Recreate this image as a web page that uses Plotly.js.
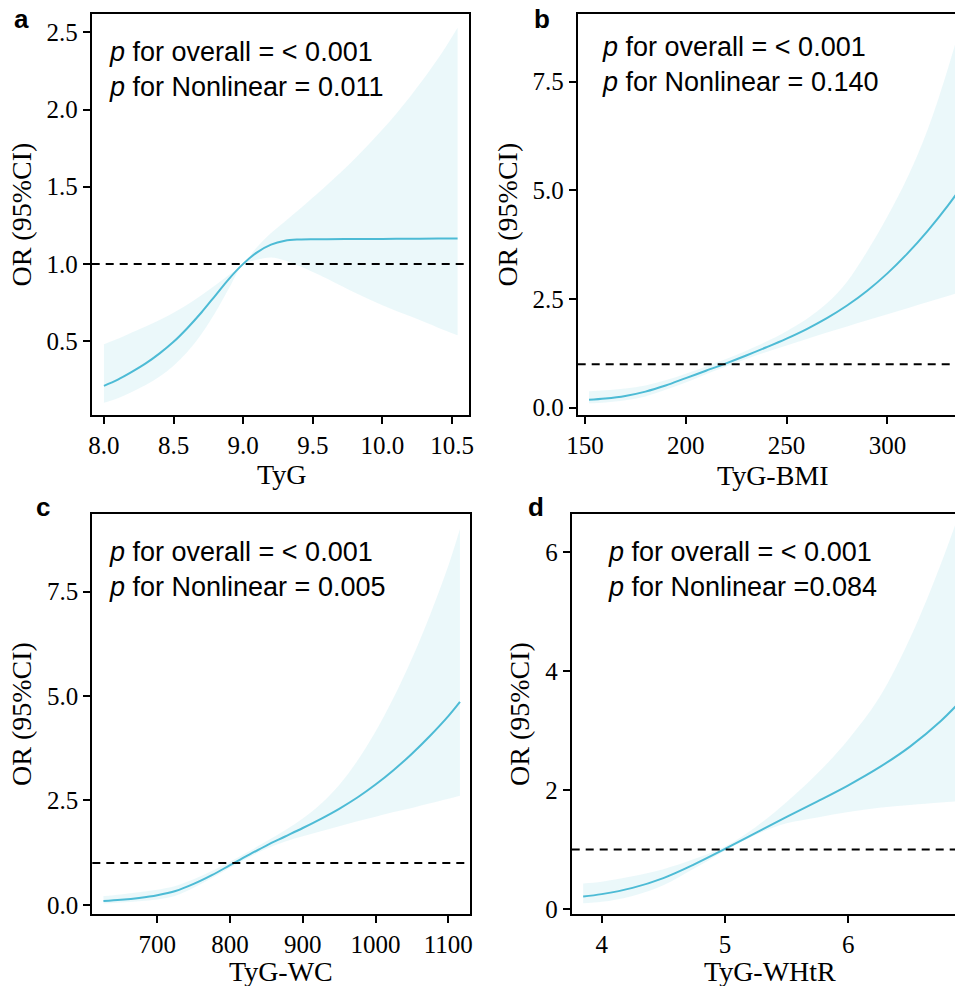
<!DOCTYPE html>
<html>
<head>
<meta charset="utf-8">
<script src="https://cdn.plot.ly/plotly-3.0.1.min.js"></script>
<style>
  html, body { margin: 0; padding: 0; background: #ffffff; overflow: hidden; }
  #chart { width: 1000px; height: 986px; }
</style>
</head>
<body>
<div id="chart"></div>
<script>
// ---------------- data ----------------
// Panel a: TyG
const tygX     = [8.0, 8.1, 8.2, 8.3, 8.4, 8.5, 8.6, 8.7, 8.8, 8.9, 9.0, 9.1, 9.2, 9.3, 9.4, 9.5, 9.6, 9.8, 10.0, 10.2, 10.4, 10.54];
const tygOR    = [0.21, 0.25, 0.30, 0.355, 0.42, 0.495, 0.585, 0.685, 0.795, 0.905, 1.0, 1.075, 1.125, 1.15, 1.158, 1.16, 1.16, 1.161, 1.162, 1.163, 1.164, 1.164];
const tygUpper = [0.48, 0.515, 0.555, 0.595, 0.637, 0.683, 0.737, 0.797, 0.862, 0.93, 1.0, 1.11, 1.20, 1.275, 1.35, 1.43, 1.51, 1.68, 1.87, 2.085, 2.33, 2.53];
const tygLower = [0.10, 0.13, 0.17, 0.215, 0.27, 0.34, 0.43, 0.545, 0.685, 0.845, 0.995, 1.027, 1.042, 1.022, 0.988, 0.948, 0.906, 0.815, 0.732, 0.66, 0.587, 0.537];

// Panel b: TyG-BMI
const bmiX     = [152, 160, 170, 180, 190, 200, 210, 220, 230, 240, 250, 260, 270, 280, 290, 300, 310, 320, 330, 340];
const bmiOR    = [0.18, 0.21, 0.27, 0.37, 0.51, 0.68, 0.85, 1.02, 1.2, 1.39, 1.59, 1.81, 2.06, 2.35, 2.69, 3.09, 3.55, 4.07, 4.65, 5.29];
const bmiUpper = [0.38, 0.40, 0.44, 0.51, 0.63, 0.78, 0.95, 1.12, 1.31, 1.52, 1.76, 2.04, 2.4, 2.9, 3.6, 4.4, 5.3, 6.4, 7.8, 9.4];
const bmiLower = [0.10, 0.12, 0.17, 0.26, 0.41, 0.58, 0.77, 0.95, 1.12, 1.28, 1.43, 1.58, 1.73, 1.87, 2.01, 2.15, 2.29, 2.43, 2.57, 2.71];

// Panel c: TyG-WC
const wcX     = [626, 650, 675, 700, 725, 750, 775, 800, 825, 850, 875, 900, 925, 950, 975, 1000, 1025, 1050, 1075, 1100, 1116];
const wcOR    = [0.089, 0.12, 0.165, 0.23, 0.33, 0.50, 0.71, 0.95, 1.19, 1.42, 1.63, 1.84, 2.06, 2.30, 2.57, 2.88, 3.23, 3.62, 4.05, 4.52, 4.86];
const wcUpper = [0.21, 0.25, 0.30, 0.36, 0.45, 0.61, 0.81, 1.03, 1.27, 1.52, 1.78, 2.07, 2.42, 2.87, 3.45, 4.15, 4.97, 5.9, 6.95, 8.12, 9.0];
const wcLower = [0.033, 0.055, 0.085, 0.13, 0.22, 0.41, 0.64, 0.89, 1.13, 1.34, 1.51, 1.64, 1.76, 1.88, 2.0, 2.11, 2.22, 2.32, 2.43, 2.54, 2.61];

// Panel d: TyG-WHtR
const whtrX     = [3.85, 4.0, 4.25, 4.5, 4.75, 5.0, 5.25, 5.5, 5.75, 6.0, 6.25, 6.5, 6.75, 6.95];
const whtrOR    = [0.21, 0.25, 0.355, 0.52, 0.75, 1.01, 1.28, 1.55, 1.81, 2.08, 2.38, 2.73, 3.16, 3.58];
const whtrUpper = [0.43, 0.46, 0.55, 0.67, 0.84, 1.05, 1.38, 1.8, 2.28, 2.85, 3.55, 4.55, 5.8, 6.95];
const whtrLower = [0.095, 0.12, 0.22, 0.40, 0.68, 0.98, 1.25, 1.44, 1.54, 1.63, 1.70, 1.75, 1.79, 1.82];

const refOR = 1;
const panelLetters = ["a", "b", "c", "d"];
const xTitles = ["TyG", "TyG-BMI", "TyG-WC", "TyG-WHtR"];
const yTitle = "OR (95%CI)";
const pOverall = ["&lt; 0.001", "&lt; 0.001", "&lt; 0.001", "&lt; 0.001"];
const pNonlinear = [" 0.011", " 0.140", " 0.005", "0.084"];

// ---------------- layout helpers ----------------
const W = 1000, H = 986;
const px = v => v / W;
const py = v => 1 - v / H;

const LINE = "#4DBBD5";
const BAND = "rgba(77,187,213,0.11)";
const SERIF = "Liberation Serif, Times New Roman, serif";
const SANS = "Liberation Sans, Arial, sans-serif";

const panels = [
  {x: tygX,  m: tygOR,  u: tygUpper,  l: tygLower,  dom: [91.7, 469], ydom: [14.3, 415], xr: [7.912, 10.622], yr: [0.021, 2.617], xd: 0.5, yd: 0.5, xf: ".1f", yf: ".1f"},
  {x: bmiX,  m: bmiOR,  u: bmiUpper,  l: bmiLower,  dom: [577.7, 965], ydom: [14.3, 415], xr: [146.4, 338.5], yr: [-0.168, 9.05], xd: 50, yd: 2.5, xf: "d", yf: ".1f"},
  {x: wcX,   m: wcOR,   u: wcUpper,   l: wcLower,   dom: [92.3, 470], ydom: [514, 914], xr: [610.7, 1129.8], yr: [-0.22, 9.36], xd: 100, yd: 2.5, xf: "d", yf: ".1f"},
  {x: whtrX, m: whtrOR, u: whtrUpper, l: whtrLower, dom: [571.7, 965], ydom: [514, 914], xr: [3.757, 6.946], yr: [-0.084, 6.64], xd: 1, yd: 2, xf: "d", yf: "d"}
];

const textPos = [
  {x: 106.7, y: 35}, {x: 600, y: 30}, {x: 107.3, y: 535}, {x: 606, y: 535}
];
const letterPos = [
  {x: 12, y: 2}, {x: 532, y: 2}, {x: 34, y: 490}, {x: 526, y: 490}
];
// centre (px) of each x-axis title
const xTitlePos = [{x: 281, y: 474}, {x: 773, y: 475}, {x: 281, y: 971}, {x: 770, y: 971}];

const data = [];
const layout = {
  width: W, height: H,
  margin: {l: 0, r: 0, t: 0, b: 0},
  paper_bgcolor: "#ffffff", plot_bgcolor: "#ffffff",
  showlegend: false,
  shapes: [], annotations: []
};

panels.forEach((p, i) => {
  const n = i + 1;
  const xa = "x" + (n === 1 ? "" : n), ya = "y" + (n === 1 ? "" : n);
  data.push({x: p.x, y: p.l, xaxis: xa, yaxis: ya, type: "scatter", mode: "lines",
             line: {width: 0, color: "rgba(0,0,0,0)", shape: "spline", smoothing: 1}, hoverinfo: "skip"});
  data.push({x: p.x, y: p.u, xaxis: xa, yaxis: ya, type: "scatter", mode: "lines", fill: "tonexty", fillcolor: BAND,
             line: {width: 0, color: "rgba(0,0,0,0)", shape: "spline", smoothing: 1}, hoverinfo: "skip"});
  data.push({x: p.x, y: p.m, xaxis: xa, yaxis: ya, type: "scatter", mode: "lines",
             line: {width: 2, color: LINE, shape: "spline", smoothing: 1}, hoverinfo: "skip"});

  const common = {
    showline: true, linecolor: "black", linewidth: 2, mirror: true,
    ticks: "outside", ticklen: 7, tickwidth: 2, tickcolor: "black",
    showgrid: false, zeroline: false, fixedrange: true,
    tickfont: {family: SERIF, size: 25, color: "black"}
  };
  layout["xaxis" + (n === 1 ? "" : n)] = Object.assign({}, common, {
    domain: [px(p.dom[0]), px(p.dom[1])], range: p.xr, anchor: ya,
    tickmode: "linear", dtick: p.xd, tick0: 0, tickformat: p.xf
  });
  layout["yaxis" + (n === 1 ? "" : n)] = Object.assign({}, common, {
    domain: [py(p.ydom[1]), py(p.ydom[0])], range: p.yr, anchor: xa,
    tickmode: "linear", dtick: p.yd, tick0: 0, tickformat: p.yf,
    title: {text: yTitle, font: {family: SERIF, size: 28, color: "black"}, standoff: 7}
  });

  layout.shapes.push({type: "line", xref: xa + " domain", yref: ya, x0: 0, x1: 1, y0: refOR, y1: refOR,
                      line: {color: "black", width: 2, dash: "8px,6px"}, layer: "above"});

  // x-axis title
  layout.annotations.push({
    xref: "paper", yref: "paper", x: px(xTitlePos[i].x), y: py(xTitlePos[i].y),
    xanchor: "center", yanchor: "middle", showarrow: false,
    text: xTitles[i],
    font: {family: SERIF, size: 28, color: "black"}
  });

  layout.annotations.push({
    xref: "paper", yref: "paper", x: px(textPos[i].x), y: py(textPos[i].y),
    xanchor: "left", yanchor: "top", align: "left", showarrow: false,
    text: "<i>p</i> for overall = " + pOverall[i] + "<br><i>p</i> for Nonlinear =" + pNonlinear[i],
    font: {family: SANS, size: 27, color: "black"}
  });
  layout.annotations.push({
    xref: "paper", yref: "paper", x: px(letterPos[i].x), y: py(letterPos[i].y),
    xanchor: "left", yanchor: "top", showarrow: false,
    text: panelLetters[i],
    font: {family: SANS, size: 26, color: "black", weight: 700}
  });
});

Plotly.newPlot("chart", data, layout, {displayModeBar: false, staticPlot: true});
</script>
</body>
</html>
